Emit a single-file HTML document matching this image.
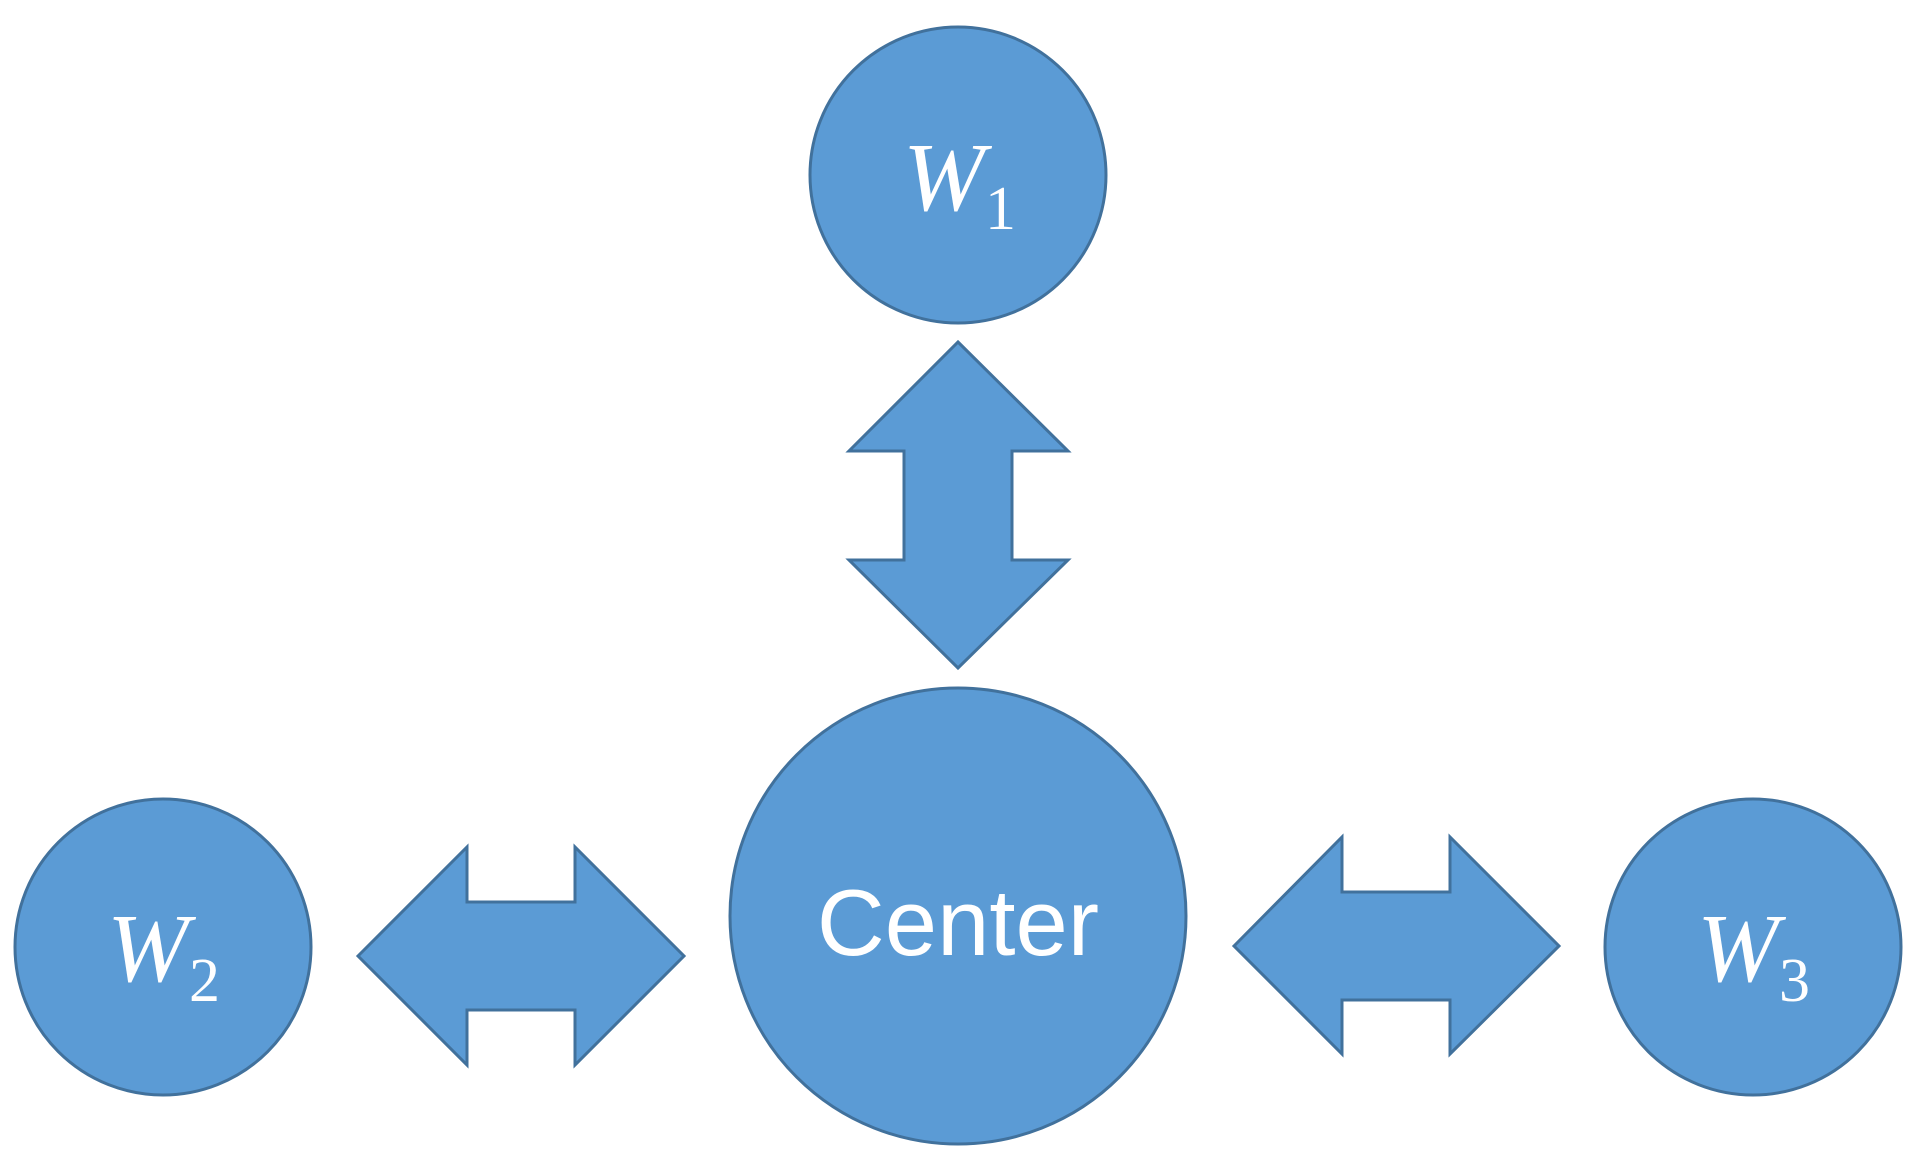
<!DOCTYPE html>
<html><head><meta charset="utf-8"><style>
html,body{margin:0;padding:0;background:#fff;}
svg{display:block}
</style></head><body>
<svg width="1913" height="1160" viewBox="0 0 1913 1160" xmlns="http://www.w3.org/2000/svg">
<g fill="#5b9bd5" stroke="#41719c" stroke-width="3">
<circle cx="958" cy="175" r="148"/>
<circle cx="958" cy="916" r="228"/>
<circle cx="163" cy="947" r="148"/>
<circle cx="1753" cy="947" r="148"/>
<polygon points="958,342 1068,451 1012,451 1012,560 1068,560 958,668 849,560 904,560 904,451 849,451"/>
<polygon points="358,956 467,847 467,902 575,902 575,847 684,956 575,1065 575,1010 467,1010 467,1065"/>
<polygon points="1234,946 1342,837 1342,892 1450,892 1450,837 1559,946 1450,1054 1450,1000 1342,1000 1342,1054"/>
</g>
<g fill="#fff" font-family="Liberation Serif, serif" font-style="italic">
<text x="903" y="210" font-size="98">W</text>
<text x="985" y="229" font-size="62" font-style="normal">1</text>
<text x="107" y="981" font-size="98">W</text>
<text x="189" y="1001" font-size="62" font-style="normal">2</text>
<text x="1697" y="981" font-size="98">W</text>
<text x="1779" y="1001" font-size="62" font-style="normal">3</text>
</g>
<text x="958" y="955" font-size="94" fill="#fff" text-anchor="middle" font-family="Liberation Sans, sans-serif">Center</text>
</svg>
</body></html>
